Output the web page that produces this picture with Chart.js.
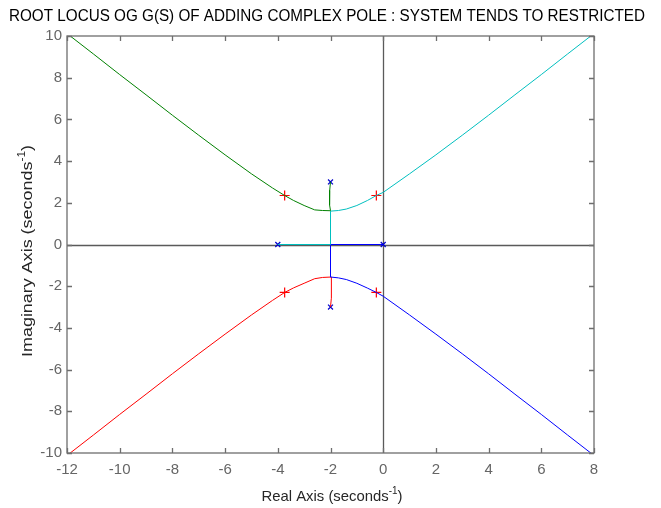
<!DOCTYPE html>
<html lang="en">
<head>
    <meta charset="UTF-8">
    <title>Root Locus</title>
    <script src="https://cdn.jsdelivr.net/npm/chart.js"></script>
    <style>
        html, body { margin: 0; padding: 0; background: #fff; }
        #rlocus { display: block; }
    </style>
</head>
<body>
    <canvas id="rlocus" width="661" height="508"></canvas>

    <script>
        // Ticks of both axes
        const xTicks = [-12, -10, -8, -6, -4, -2, 0, 2, 4, 6, 8];
        const yTicks = [-10, -8, -6, -4, -2, 0, 2, 4, 6, 8, 10];

        // Open-loop poles (blue x)
        const poleX = [0, -4, -2, -2];
        const poleY = [0, 0, 3, -3];

        // Closed-loop poles at the chosen gain (red +)
        const gainX = [-3.74, -0.26, -3.74, -0.26];
        const gainY = [2.35, 2.35, -2.3, -2.3];

        // Branch 1 (green): from -2+3j, up-left
        const greenX = [-2, -2.03, -2.05, -2.02, -2.0, -2.3, -2.6, -3, -3.4, -3.74, -4.2, -5, -6, -7, -8, -9, -10, -11, -12];
        const greenY = [3, 2.6, 2.2, 1.9, 1.62, 1.63, 1.66, 1.87, 2.11, 2.35, 2.71, 3.39, 4.3, 5.24, 6.2, 7.18, 8.15, 9.14, 10.12];

        // Branch 2 (cyan): from -4, up-right
        const cyanX = [-4, -2, -2, -1.7, -1.4, -1, -0.6, -0.26, 0, 1, 2, 3, 4, 5, 6, 7, 8];
        const cyanY = [0, 0, 1.6, 1.63, 1.7, 1.87, 2.11, 2.35, 2.5, 3.39, 4.3, 5.24, 6.2, 7.18, 8.15, 9.14, 10.12];

        // Branch 3 (blue): from 0, down-right
        const blueX = [0, -2, -2, -1.7, -1.4, -1, -0.6, -0.26, 0, 1, 2, 3, 4, 5, 6, 7, 8];
        const blueY = [0, 0, -1.56, -1.6, -1.68, -1.86, -2.09, -2.3, -2.48, -3.38, -4.3, -5.24, -6.2, -7.18, -8.15, -9.14, -10.12];

        // Branch 4 (red): from -2-3j, down-left
        const redX = [-2, -1.97, -1.95, -1.98, -1.97, -2.3, -2.6, -3, -3.4, -3.74, -4.2, -5, -6, -7, -8, -9, -10, -11, -12];
        const redY = [-3, -2.6, -2.2, -1.9, -1.56, -1.58, -1.64, -1.86, -2.08, -2.3, -2.68, -3.38, -4.3, -5.24, -6.2, -7.18, -8.15, -9.14, -10.12];

        const pts = (xs, ys) => xs.map((x, i) => ({ x: x, y: ys[i] }));

        const branch = (xs, ys, color) => ({
            data: pts(xs, ys),
            showLine: true,
            borderColor: color,
            borderWidth: 1,
            pointRadius: 0,
            fill: false
        });

        const FONT = '"Liberation Sans", Arial, sans-serif';
        const BOX = '#6e6e6e';

        // axes box, zero lines, inward ticks, titles
        const matlabAxes = {
            id: 'matlabAxes',
            beforeDatasetsDraw(chart) {
                const c = chart.ctx, a = chart.chartArea;
                const xs = chart.scales.x, ys = chart.scales.y;
                c.save();
                c.strokeStyle = '#5a5a5a';
                c.lineWidth = 1.3;
                const x0 = Math.round(xs.getPixelForValue(0)) + 0.5;
                const y0 = Math.round(ys.getPixelForValue(0)) + 0.5;
                c.beginPath();
                c.moveTo(x0, a.top); c.lineTo(x0, a.bottom);
                c.moveTo(a.left, y0); c.lineTo(a.right, y0);
                c.stroke();
                c.restore();
            },
            afterDraw(chart) {
                const c = chart.ctx, a = chart.chartArea;
                const xs = chart.scales.x, ys = chart.scales.y;
                c.save();
                c.strokeStyle = BOX;
                c.lineWidth = 1.3;
                c.strokeRect(a.left, a.top, a.right - a.left, a.bottom - a.top);
                const tl = 5;
                c.beginPath();
                xTicks.forEach(v => {
                    const p = Math.round(xs.getPixelForValue(v)) + 0.5;
                    c.moveTo(p, a.bottom); c.lineTo(p, a.bottom - tl);
                    c.moveTo(p, a.top); c.lineTo(p, a.top + tl);
                });
                yTicks.forEach(v => {
                    const p = Math.round(ys.getPixelForValue(v)) + 0.5;
                    c.moveTo(a.left, p); c.lineTo(a.left + tl, p);
                    c.moveTo(a.right, p); c.lineTo(a.right - tl, p);
                });
                c.stroke();

                // title, condensed to its width in the picture
                const title = 'ROOT LOCUS OG G(S) OF ADDING COMPLEX POLE : SYSTEM TENDS TO RESTRICTED';
                c.fillStyle = '#000';
                c.font = '16px ' + FONT;
                c.textBaseline = 'middle';
                c.textAlign = 'center';
                const w = c.measureText(title).width;
                c.save();
                c.translate(327, 17);
                c.scale(636 / w, 1);
                c.fillText(title, 0, 0);
                c.restore();

                // axis titles with superscript, stretched to the measured length
                const axisTitle = (main, cx, cy, rot, target) => {
                    c.save();
                    c.translate(cx, cy);
                    c.rotate(rot);
                    c.fillStyle = '#262626';
                    c.textAlign = 'left';
                    c.textBaseline = 'middle';
                    c.font = '15px ' + FONT;
                    const w1 = c.measureText(main).width;
                    c.font = '10px ' + FONT;
                    const w2 = c.measureText('-1').width;
                    c.font = '15px ' + FONT;
                    const w3 = c.measureText(')').width;
                    const total = w1 + w2 + w3;
                    c.scale(target / total, 1);
                    let x = -total / 2;
                    c.fillText(main, x, 0);
                    x += w1;
                    c.font = '10px ' + FONT;
                    c.fillText('-1', x, -6);
                    x += w2;
                    c.font = '15px ' + FONT;
                    c.fillText(')', x, 0);
                    c.restore();
                };
                axisTitle('Real Axis (seconds', 332, 497, 0, 141);
                axisTitle('Imaginary Axis (seconds', 28, 251, -Math.PI / 2, 212);
                c.restore();
            }
        };

        const ctx = document.getElementById('rlocus').getContext('2d');
        const chart = new Chart(ctx, {
            type: 'scatter',
            data: {
                datasets: [
                    branch(greenX, greenY, '#008000'),
                    branch(cyanX, cyanY, '#00bfbf'),
                    branch(blueX, blueY, '#0000ff'),
                    branch(redX, redY, '#ff0000'),
                    {
                        data: pts(poleX, poleY),
                        pointStyle: 'crossRot',
                        pointRadius: 3.5,
                        pointBorderWidth: 1.2,
                        borderColor: '#0000cc',
                        backgroundColor: '#0000cc'
                    },
                    {
                        data: pts(gainX, gainY),
                        pointStyle: 'cross',
                        pointRadius: 5,
                        pointBorderWidth: 1.2,
                        borderColor: '#ff0000',
                        backgroundColor: '#ff0000'
                    }
                ]
            },
            options: {
                responsive: false,
                animation: false,
                layout: { padding: { top: 36, right: 67, left: 0, bottom: 0 } },
                plugins: {
                    legend: { display: false },
                    tooltip: { enabled: false }
                },
                scales: {
                    x: {
                        type: 'linear',
                        min: -12,
                        max: 8,
                        afterFit: s => { s.height = 55; },
                        afterBuildTicks: s => { s.ticks = xTicks.map(v => ({ value: v })); },
                        grid: { display: false, drawTicks: false, tickLength: 0 },
                        border: { display: false },
                        ticks: { color: '#666', padding: 8, font: { family: FONT, size: 15 } }
                    },
                    y: {
                        type: 'linear',
                        min: -10,
                        max: 10,
                        afterFit: s => { s.width = 67; },
                        afterBuildTicks: s => { s.ticks = yTicks.map(v => ({ value: v })); },
                        grid: { display: false, drawTicks: false, tickLength: 0 },
                        border: { display: false },
                        ticks: { color: '#666', padding: 5, font: { family: FONT, size: 15 } }
                    }
                }
            },
            plugins: [matlabAxes]
        });
    </script>
</body>
</html>
